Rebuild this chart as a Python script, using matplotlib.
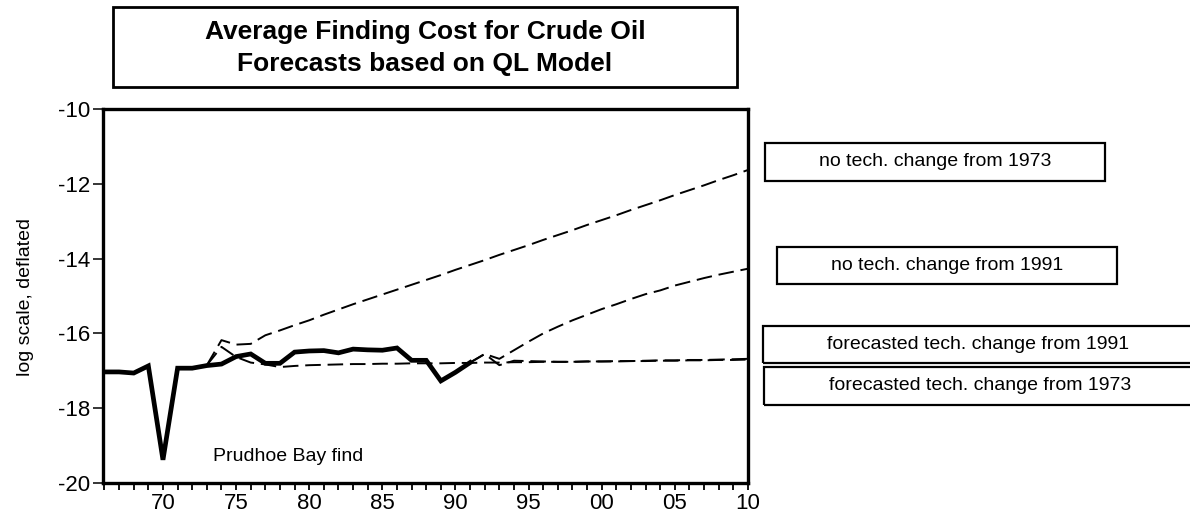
import matplotlib
matplotlib.use("Agg")
import matplotlib.pyplot as plt
from matplotlib.patches import Rectangle
from matplotlib.ticker import MultipleLocator, FixedLocator, FuncFormatter

plt.rcParams['font.family'] = ['Liberation Sans', 'DejaVu Sans']

# actual average finding cost (log, deflated)
years_actual = list(range(1966, 1992))
actual = [-17.03, -17.03, -17.06, -16.87, -19.38, -16.93, -16.93, -16.86, -16.82,
          -16.62, -16.55, -16.80, -16.80, -16.50, -16.47, -16.46, -16.52, -16.42,
          -16.44, -16.45, -16.39, -16.72, -16.72, -17.27, -17.04, -16.78]

# forecasts starting in 1973
years_73 = list(range(1973, 2011))
notech_73 = [-16.85, -16.18, -16.30, -16.28, -16.05, -15.92, -15.78, -15.65, -15.50,
             -15.36, -15.22, -15.09, -14.96, -14.83, -14.70, -14.57, -14.44, -14.30,
             -14.17, -14.04, -13.90, -13.77, -13.64, -13.50, -13.37, -13.24, -13.10,
             -12.97, -12.84, -12.70, -12.57, -12.44, -12.30, -12.17, -12.04, -11.90,
             -11.77, -11.63]
fcast_73 = [-16.85, -16.36, -16.63, -16.78, -16.83, -16.90, -16.87, -16.85, -16.84,
            -16.83, -16.82, -16.82, -16.81, -16.81, -16.80, -16.80, -16.80, -16.79,
            -16.79, -16.78, -16.78, -16.77, -16.77, -16.76, -16.76, -16.76, -16.75,
            -16.75, -16.75, -16.74, -16.74, -16.73, -16.73, -16.72, -16.72, -16.71,
            -16.71, -16.70]

# forecasts starting in 1991
years_91 = list(range(1991, 2011))
notech_91 = [-16.78, -16.55, -16.68, -16.45, -16.22, -16.00, -15.82, -15.65, -15.50,
             -15.35, -15.22, -15.08, -14.95, -14.85, -14.72, -14.62, -14.52, -14.43,
             -14.35, -14.27]
fcast_91 = [-16.78, -16.55, -16.85, -16.73, -16.74, -16.75, -16.76, -16.76, -16.75,
            -16.75, -16.74, -16.74, -16.73, -16.72, -16.72, -16.71, -16.71, -16.70,
            -16.69, -16.68]

W, H = 1190, 517
fig = plt.figure(figsize=(W / 100, H / 100), dpi=100)
ax = fig.add_axes([103 / W, 1 - 483 / H, (748 - 103) / W, (483 - 109) / H])

dash = dict(color='black', lw=1.4, dashes=(8, 3.5))
ax.plot(years_73, notech_73, **dash)
ax.plot(years_73, fcast_73, **dash)
ax.plot(years_91, notech_91, **dash)
ax.plot(years_91, fcast_91, **dash)
ax.plot(years_actual, actual, color='black', lw=3.4, solid_joinstyle='miter')

ax.set_xlim(1965.9, 2010)
ax.set_ylim(-20, -10)
ax.yaxis.set_major_locator(MultipleLocator(2))
ax.xaxis.set_major_locator(FixedLocator(range(1970, 2011, 5)))
ax.xaxis.set_minor_locator(MultipleLocator(1))
ax.xaxis.set_major_formatter(FuncFormatter(lambda v, p: f"{int(v) % 100:02d}"))
ax.yaxis.set_major_formatter(FuncFormatter(lambda v, p: f"{int(v)}"))

for s in ax.spines.values():
    s.set_linewidth(2.4)
ax.tick_params(axis='y', direction='out', length=7, width=1.1, labelsize=16, pad=2)
ax.tick_params(axis='x', which='both', direction='out', length=5, width=1.3,
               labelsize=16, pad=2)

ax.text(1973.4, -19.28, "Prudhoe Bay find", fontsize=14, va='center', ha='left')

fig.text(25 / W, 1 - 297 / H, "log scale, deflated", rotation=90, fontsize=14,
         ha='center', va='center')

# title box
fig.add_artist(Rectangle((113 / W, 1 - 87 / H), (737 - 113) / W, 80 / H,
                         transform=fig.transFigure, fill=False, lw=2.0,
                         edgecolor='black'))
fig.text(425 / W, 1 - 32 / H, "Average Finding Cost for Crude Oil", fontsize=19,
         fontweight='bold', ha='center', va='center')
fig.text(425 / W, 1 - 64 / H, "Forecasts based on QL Model", fontsize=19,
         fontweight='bold', ha='center', va='center')

# series labels
boxes = [
    (765, 1105, 143, 181, "no tech. change from 1973"),
    (777, 1117, 247, 284, "no tech. change from 1991"),
    (763, 1193, 326, 363, "forecasted tech. change from 1991"),
    (764, 1196, 367, 405, "forecasted tech. change from 1973"),
]
for x0, x1, y0, y1, label in boxes:
    fig.add_artist(Rectangle((x0 / W, 1 - y1 / H), (x1 - x0) / W, (y1 - y0) / H,
                             transform=fig.transFigure, fill=False, lw=1.6,
                             edgecolor='black', clip_on=False))
    fig.text((x0 + x1) / 2 / W, 1 - (y0 + y1) / 2 / H, label, fontsize=14,
             ha='center', va='center')

fig.savefig("out.png", dpi=100)
